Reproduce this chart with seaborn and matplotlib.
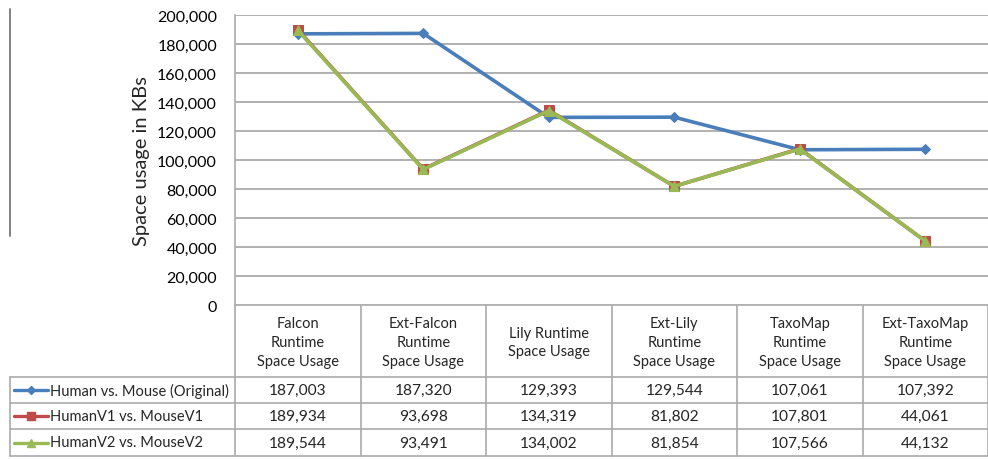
import matplotlib
matplotlib.use("Agg")
import matplotlib.pyplot as plt
from matplotlib.lines import Line2D
import seaborn as sns
import pandas as pd

# ---- data ----
categories = ["Falcon\nRuntime\nSpace Usage", "Ext-Falcon\nRuntime\nSpace Usage",
              "Lily Runtime\nSpace Usage", "Ext-Lily\nRuntime\nSpace Usage",
              "TaxoMap\nRuntime\nSpace Usage", "Ext-TaxoMap\nRuntime\nSpace Usage"]
series_names = ["Human vs. Mouse (Original)", "HumanV1 vs. MouseV1", "HumanV2 vs. MouseV2"]
original = [187003, 187320, 129393, 129544, 107061, 107392]
v1 = [189934, 93698, 134319, 81802, 107801, 44061]
v2 = [189544, 93491, 134002, 81854, 107566, 44132]
yticks = list(range(0, 200001, 20000))
ylabel = "Space usage in KBs"

colors = ["#4A7EBB", "#BE4B48", "#98B954"]
marker_list = ["D", "s", "^"]
marker_sizes = [5, 6.5, 6.5]

sns.set_style("white")
plt.rcParams["font.family"] = ["Lato", "DejaVu Sans"]

all_values = [original, v1, v2]
rows = []
for name, vals in zip(series_names, all_values):
    for cat, v in zip(categories, vals):
        rows.append({"category": cat, "value": v, "series": name})
df = pd.DataFrame(rows)

W, H = 988, 460
fig = plt.figure(figsize=(W / 100, H / 100), dpi=100)
left, right, top, bottom = 235, 988, 16, 306
ax = fig.add_axes([left / W, 1 - bottom / H, (right - left) / W, (bottom - top) / H])

sns.lineplot(data=df, x="category", y="value", hue="series", style="series",
             palette=dict(zip(series_names, colors)),
             markers=dict(zip(series_names, marker_list)), dashes=False,
             linewidth=2.6, legend=False, sort=False, ax=ax)
for ln, c, ms in zip(ax.lines, colors, marker_sizes):
    ln.set_markeredgecolor(c)
    ln.set_markerfacecolor(c)
    ln.set_markersize(ms)

ax.set_xlim(-0.5, len(categories) - 0.5)
ax.set_ylim(0, 200000)
ax.set_yticks(yticks)
ax.set_yticklabels([f"{t:,}" for t in yticks], fontsize=11.5)
ax.set_xticks([])
ax.set_xlabel("")
ax.set_ylabel(ylabel, fontsize=14.5, labelpad=5)
ax.grid(axis="y", color="#B0B0B0", linewidth=1.4)
ax.set_axisbelow(True)
for s in ["top", "right", "bottom"]:
    ax.spines[s].set_visible(False)
ax.spines["left"].set_color("#AAAAAA")
ax.spines["left"].set_linewidth(1.2)
ax.tick_params(axis="y", length=0, pad=13, colors="black")

# ---- data table (overlay in pixel coordinates) ----
tax = fig.add_axes([0, 0, 1, 1], zorder=-1)
tax.set_xlim(0, W)
tax.set_ylim(H, 0)
tax.axis("off")
gc = "#AAAAAA"
lw = 1.2
colw = (right - left) / len(categories)
hdr_bot = 378
row_edges = [378, 404, 430, 457]
table_left = 10

for i in range(len(categories) + 1):
    x = left + i * colw
    tax.plot([x, x], [bottom, row_edges[-1]], color=gc, lw=lw)
tax.plot([left, right], [bottom, bottom], color=gc, lw=lw)
for y in row_edges:
    tax.plot([table_left, right], [y, y], color=gc, lw=lw)
tax.plot([table_left, table_left], [row_edges[0], row_edges[-1]], color=gc, lw=lw)

for i, cat in enumerate(categories):
    x = left + (i + 0.5) * colw
    tax.text(x, (bottom + hdr_bot) / 2 + 1, cat, ha="center", va="center",
             fontsize=10.5, linespacing=1.45)

for r, (name, vals, c, m, ms) in enumerate(zip(series_names, all_values, colors, marker_list, marker_sizes)):
    yc = (row_edges[r] + row_edges[r + 1]) / 2
    tax.add_line(Line2D([14, 48], [yc, yc], color=c, lw=2.4))
    tax.add_line(Line2D([31], [yc], color=c, marker=m, markersize=ms - 1, markeredgecolor=c, lw=0))
    tax.text(50, yc, name, ha="left", va="center", fontsize=10.5)
    for i, v in enumerate(vals):
        x = left + (i + 0.5) * colw
        tax.text(x, yc, f"{v:,}", ha="center", va="center", fontsize=11.2)

tax.plot([10, 10], [10, 237], color="#777777", lw=1.3)

fig.savefig("out.png", dpi=100)
